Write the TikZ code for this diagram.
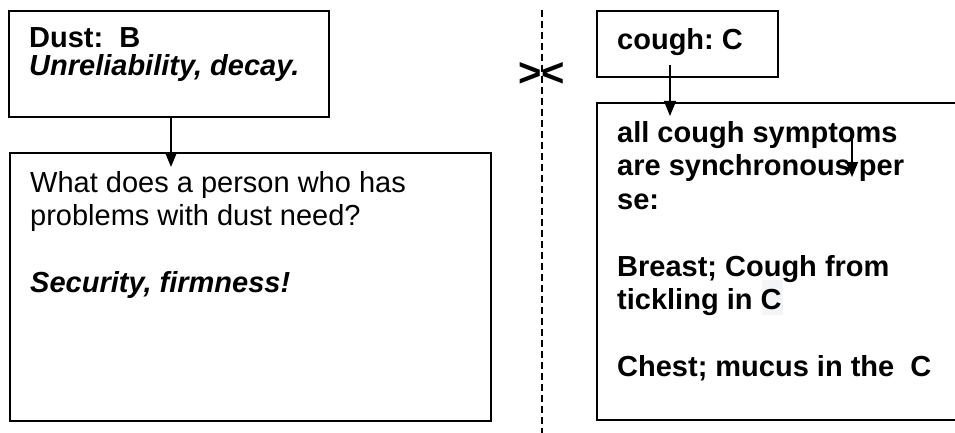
\documentclass[tikz,border=0pt]{standalone}
\usepackage{fontspec}
\setmainfont{Liberation Sans}
\usepackage{tikz}
\usetikzlibrary{arrows.meta, calc, positioning}
\definecolor{hlGray}{rgb}{0.955, 0.96, 0.97}

\begin{document}
\begin{tikzpicture}[x=1pt, y=-1pt,
	box/.style={draw, line width=1.6pt, inner sep=0pt},
	txt/.style={anchor=north west, inner sep=0pt, align=left, font=\fontsize{29}{33.5}\selectfont\frenchspacing},
	pointer/.style={line width=1.5pt, -{Triangle[length=15pt, width=12pt]}}]

	\useasboundingbox (0,0) rectangle (955,433);

	\coordinate (D) at (169,64);
	\coordinate (N) at (250.5,287);
	\coordinate (C) at (687.5,44);
	\coordinate (S) at (781,261.5);

	% the two sides
	\node[box, minimum width=320pt, minimum height=106pt] (dust) at (D) {};
	\node[box, minimum width=481pt, minimum height=268pt] (need) at (N) {};
	\node[box, minimum width=181pt, minimum height=66pt] (cough) at (C) {};
	\node[box, minimum width=368pt, minimum height=317pt] (symptoms) at (S) {};

	\fill[hlGray] (762,280) rectangle (783,315);

	\node[txt, font=\fontsize{29}{28.5}\selectfont\frenchspacing\bfseries] (dustText) at (29,27.2) {Dust:~~B\\ \itshape Unreliability, decay.};
	\node[txt] (needText) at (30,171.2) {What does a person who has\\problems with dust need?\\[33.5pt]\bfseries\itshape Security, firmness!};
	\node[txt, font=\fontsize{29}{33.5}\selectfont\frenchspacing\bfseries] (coughText) at (617,28.2) {cough: C};
	\node[txt, font=\fontsize{29}{33.5}\selectfont\frenchspacing\bfseries] (symptomsText) at (617,121.2) {all cough symptoms\\are synchronous per\\se:\\[33.5pt]Breast; Cough from\\tickling in C\\[33.5pt]Chest; mucus in the~~C};

	\coordinate (dustTip) at (171,167);
	\coordinate (coughFoot) at (670,65);
	\coordinate (coughTip) at (670,116);
	\coordinate (symFoot) at (852,130);
	\coordinate (symTip) at (852,177);

	\draw[pointer] (dust.south -| dustTip) -- (dustTip);
	\draw[pointer] (coughFoot) -- (coughTip);
	\draw[pointer] (symFoot) -- (symTip);

	% cut between the two sides
	\coordinate (cutTop) at (542,10);
	\coordinate (cutBot) at (542,433);
	\draw[line width=1.2pt, dash pattern=on 7pt off 4pt] (cutTop) -- (cutBot);
	\node[anchor=base, inner sep=0pt, font=\fontsize{40}{40}\selectfont\bfseries] (swap) at (541.5,87) {><};

\end{tikzpicture}
\end{document}
